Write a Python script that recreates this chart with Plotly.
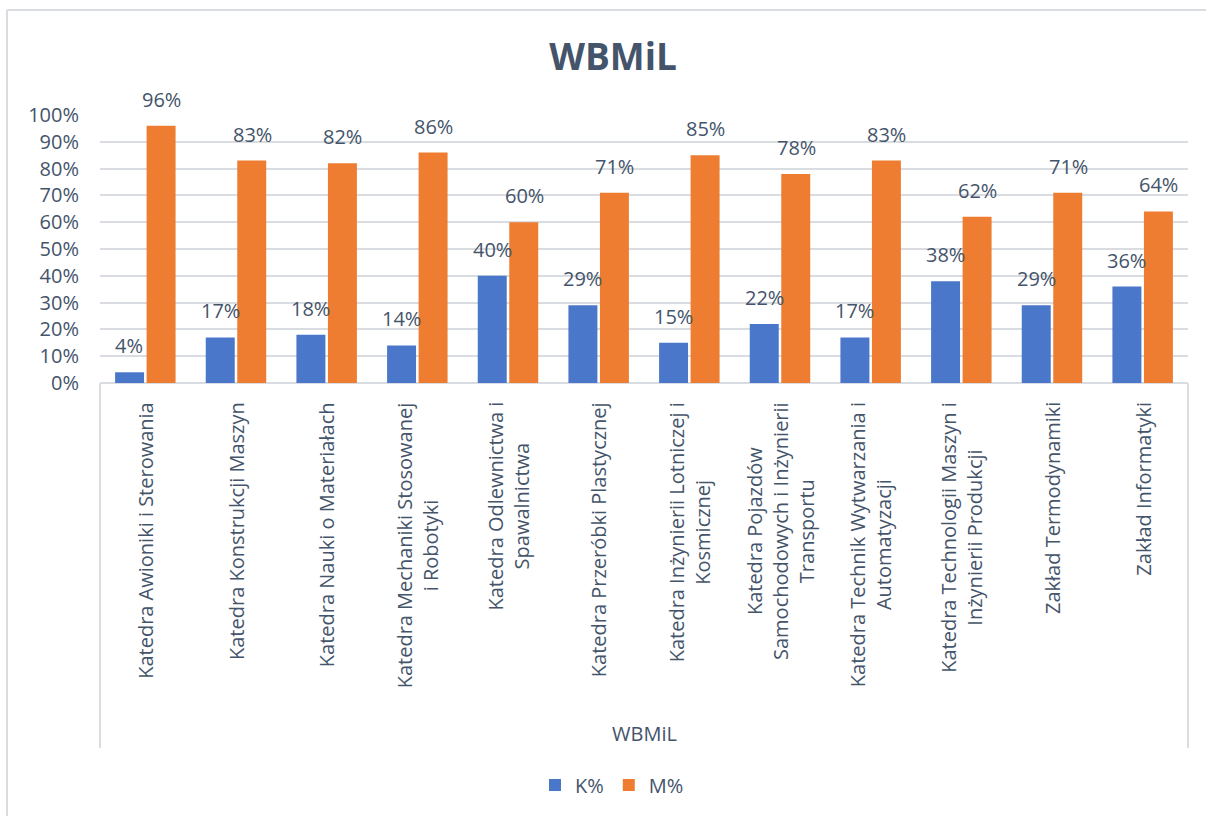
import plotly.graph_objects as go

# ---- data ----
categories = [
    "Katedra Awioniki i Sterowania",
    "Katedra Konstrukcji Maszyn",
    "Katedra Nauki o Materiałach",
    "Katedra Mechaniki Stosowanej<br>i Robotyki",
    "Katedra Odlewnictwa i<br>Spawalnictwa",
    "Katedra Przeróbki Plastycznej",
    "Katedra Inżynierii Lotniczej i<br>Kosmicznej",
    "Katedra Pojazdów<br>Samochodowych i Inżynierii<br>Transportu",
    "Katedra Technik Wytwarzania i<br>Automatyzacji",
    "Katedra Technologii Maszyn i<br>Inżynierii Produkcji",
    "Zakład Termodynamiki",
    "Zakład Informatyki",
]
k_values = [0.04, 0.17, 0.18, 0.14, 0.40, 0.29, 0.15, 0.22, 0.17, 0.38, 0.29, 0.36]
m_values = [0.96, 0.83, 0.82, 0.86, 0.60, 0.71, 0.85, 0.78, 0.83, 0.62, 0.71, 0.64]
series_names = ["K%", "M%"]
y_ticks = [i / 10 for i in range(11)]
chart_title = "WBMiL"
axis_title = "WBMiL"

# ---- layout geometry (pixels) ----
W, H = 1206, 816
PL, PR, PT, PB = 100, 1188, 115, 383  # plot area
TXT = "#44546A"
GRID = "#D9DCE1"
FONT = "Open Sans"

def px_x(p):
    return (p - PL) / (PR - PL)

def px_y(p):
    return (PB - p) / (PB - PT)

idx = list(range(len(categories)))

fig = go.Figure()
fig.add_trace(go.Bar(x=idx, y=k_values, name=series_names[0],
                     marker=dict(color="#4A77C9", line=dict(width=0))))
fig.add_trace(go.Bar(x=idx, y=m_values, name=series_names[1],
                     marker=dict(color="#EE7D31", line=dict(width=0))))

annotations = []
# data labels
for vals, shift in ((k_values, -16), (m_values, 16)):
    for i, v in zip(idx, vals):
        annotations.append(dict(
            x=i, y=v, xref="x", yref="y", text=f"{round(v * 100)}%",
            showarrow=False, xshift=shift, yanchor="bottom", yshift=11,
            font=dict(family=FONT, size=20, color=TXT)))
# category labels (rotated, centered lines)
for i, c in zip(idx, categories):
    annotations.append(dict(
        x=i, y=px_y(400), xref="x", yref="paper", text=c, textangle=-90,
        showarrow=False, yanchor="top", xanchor="center", align="center",
        font=dict(family=FONT, size=20, color=TXT)))
# axis title
annotations.append(dict(
    x=0.5, y=px_y(733), xref="paper", yref="paper", text=axis_title,
    showarrow=False, yanchor="middle",
    font=dict(family=FONT, size=20, color=TXT)))

line = dict(color=GRID, width=2)
shapes = [
    # label box sides
    dict(type="line", xref="paper", yref="paper", x0=0, x1=0, y0=0, y1=px_y(748), line=line, layer="below"),
    dict(type="line", xref="paper", yref="paper", x0=1, x1=1, y0=0, y1=px_y(748), line=line, layer="below"),
    # axis line
    dict(type="line", xref="paper", yref="paper", x0=0, x1=1, y0=0, y1=0, line=line, layer="below"),
    # outer chart border (left & top)
    dict(type="line", xref="paper", yref="paper", x0=px_x(7), x1=px_x(7), y0=px_y(10), y1=px_y(830), line=line),
    dict(type="line", xref="paper", yref="paper", x0=px_x(7), x1=px_x(1220), y0=px_y(10), y1=px_y(10), line=line),
]

fig.update_layout(
    width=W, height=H,
    margin=dict(l=PL, r=W - PR, t=PT, b=H - PB, autoexpand=False),
    paper_bgcolor="white", plot_bgcolor="white",
    font=dict(family=FONT, size=20, color=TXT),
    title=dict(text=f"<b>{chart_title}</b>", x=613 / W, xref="container", xanchor="center",
               y=1 - 57 / H, yref="container", yanchor="middle",
               font=dict(family=FONT, size=37, color=TXT)),
    barmode="group", bargap=0.305, bargroupgap=0.08,
    showlegend=True,
    legend=dict(orientation="h", x=px_x(612), xanchor="center", y=px_y(785), yanchor="middle",
                font=dict(family=FONT, size=20, color=TXT), bgcolor="rgba(0,0,0,0)"),
    annotations=annotations, shapes=shapes,
)
fig.update_xaxes(range=[-0.5, len(categories) - 0.5], showticklabels=False, showgrid=False,
                 zeroline=False, showline=False, ticks="")
fig.update_yaxes(range=[0, 1], tickvals=y_ticks, tickformat=".0%", showgrid=True, gridcolor=GRID,
                 gridwidth=2, zeroline=False, showline=False, ticks="", ticklabelstandoff=20,
                 tickfont=dict(family=FONT, size=20, color=TXT))

fig.write_html("out.html", config={"displayModeBar": False},
               post_script="document.body.style.margin='0';document.body.style.overflow='hidden';")
